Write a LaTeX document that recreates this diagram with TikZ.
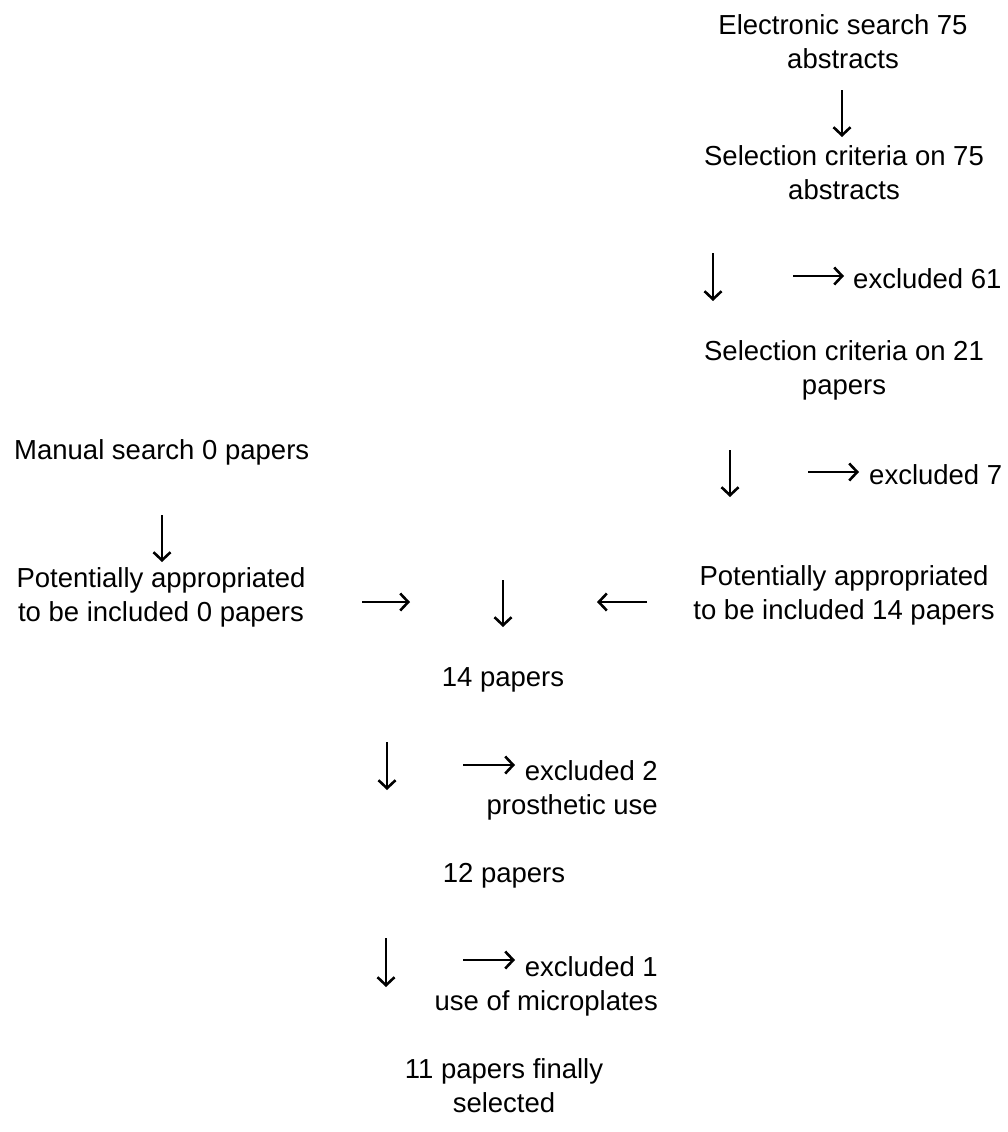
\documentclass[tikz,border=0pt]{standalone}
\usepackage{fontspec}
\setmainfont{Liberation Sans}
\usetikzlibrary{arrows.meta}
\begin{document}
\begin{tikzpicture}[x=1pt,y=-1pt,
  lbl/.style={font=\fontsize{27.5}{34}\selectfont, align=center, inner sep=0pt},
  arr/.style={-{Straight Barb[length=8pt,width=17pt,line width=2.6pt]}, line width=2.4pt}]
\useasboundingbox (0,0) rectangle (1007,1132);
% text nodes
\node[lbl] (es) at (843,42) {Electronic search 75\\abstracts};
\node[lbl] (sc1) at (844,173) {Selection criteria on 75\\abstracts};
\node[lbl,anchor=west] (ex61) at (853,279) {excluded 61};
\node[lbl] (sc2) at (844,370) {Selection criteria on 21\\papers};
\node[lbl,anchor=west] (ex7) at (869,475) {excluded 7};
\node[lbl,anchor=west] (ms) at (14,452) {Manual search 0 papers};
\node[lbl] (pl) at (161,597) {Potentially appropriated\\to be included 0 papers};
\node[lbl] (pr) at (844,595) {Potentially appropriated\\to be included 14 papers};
\node[lbl] (p14) at (503,680) {14 papers};
\node[lbl,align=right,anchor=east] (ex2) at (658,790) {excluded 2\\prosthetic use};
\node[lbl] (p12) at (504,876) {12 papers};
\node[lbl,align=right,anchor=east] (ex1) at (658,986) {excluded 1\\use of microplates};
\node[lbl] (p11) at (504,1086) {11 papers finally\\selected};
% arrow end points
\coordinate (a1s) at (842,90);  \coordinate (a1e) at (842,137);
\coordinate (a2s) at (713,253); \coordinate (a2e) at (713,301);
\coordinate (a3s) at (793,276); \coordinate (a3e) at (844,276);
\coordinate (a4s) at (730,450); \coordinate (a4e) at (730,497);
\coordinate (a5s) at (808,472); \coordinate (a5e) at (859,472);
\coordinate (a6s) at (162,515); \coordinate (a6e) at (162,562);
\coordinate (a7s) at (362,602); \coordinate (a7e) at (410,602);
\coordinate (a8s) at (503,580); \coordinate (a8e) at (503,627);
\coordinate (a9s) at (647,602); \coordinate (a9e) at (597,602);
\coordinate (a10s) at (387,742); \coordinate (a10e) at (387,790);
\coordinate (a11s) at (463,765); \coordinate (a11e) at (515,765);
\coordinate (a12s) at (386,938); \coordinate (a12e) at (386,987);
\coordinate (a13s) at (463,960); \coordinate (a13e) at (515,960);
% arrows
\foreach \i in {1,...,13} \draw[arr] (a\i s) -- (a\i e);
\end{tikzpicture}
\end{document}
